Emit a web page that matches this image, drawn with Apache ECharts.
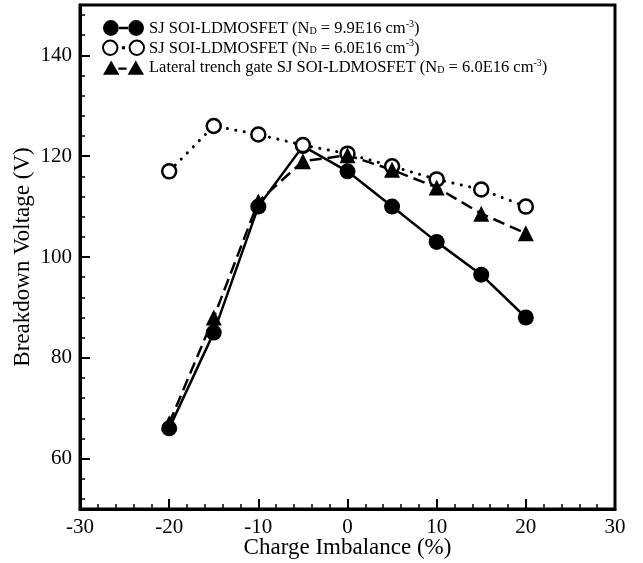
<!DOCTYPE html>
<html>
<head>
<meta charset="utf-8">
<script src="https://cdn.jsdelivr.net/npm/echarts@6/dist/echarts.min.js"></script>
<style>
html,body{margin:0;padding:0;background:#fff;}
#c{width:643px;height:563px;}
</style>
</head>
<body>
<div id="c"></div>
<script>
const xValues = [-20, -15, -10, -5, 0, 5, 10, 15, 20];
const sjHigh = [66, 85, 110, 122, 117, 110, 103, 96.5, 88];
const sjLow = [117, 126, 124.3, 122.2, 120.5, 118, 115.4, 113.4, 110];
const trench = [67, 88, 111, 119, 120.2, 117.3, 113.8, 108.6, 104.7];
const yMajorTicks = [60, 80, 100, 120, 140];
const yMinorTicks = [52, 56, 64, 68, 72, 76, 84, 88, 92, 96, 104, 108, 112, 116, 124, 128, 132, 136, 144, 148];
const seriesNames = [
  'SJ SOI-LDMOSFET (ND = 9.9E16 cm-3)',
  'SJ SOI-LDMOSFET (ND = 6.0E16 cm-3)',
  'Lateral trench gate SJ SOI-LDMOSFET (ND = 6.0E16 cm-3)'
];
const legendRich = [
  '{a|SJ SOI-LDMOSFET (N}{sub|D}{a| = 9.9E16 cm}{sup|-3}{a|)}',
  '{a|SJ SOI-LDMOSFET (N}{sub|D}{a| = 6.0E16 cm}{sup|-3}{a|)}',
  '{a|Lateral trench gate SJ SOI-LDMOSFET (N}{sub|D}{a| = 6.0E16 cm}{sup|-3}{a|)}'
];

const pair = (arr) => xValues.map((x, i) => [x, arr[i]]);
const FONT = '"Liberation Serif", "Times New Roman", serif';

const iconFilled = 'path://M0.5,8a7.5,7.5 0 1,0 15,0a7.5,7.5 0 1,0 -15,0Z M24.5,8a7.5,7.5 0 1,0 15,0a7.5,7.5 0 1,0 -15,0Z M15,6.8L25,6.8L25,9.2L15,9.2Z';
const iconOpen = 'path://M1.5,8a6.5,6.5 0 1,0 13,0a6.5,6.5 0 1,0 -13,0Z M25.5,8a6.5,6.5 0 1,0 13,0a6.5,6.5 0 1,0 -13,0Z M19.5,7.5L20.5,7.5L20.5,8.5L19.5,8.5Z';
const iconTri = 'path://M0,15L8,1L16,15Z M24,15L32,1L40,15Z M15,7.8L23,7.8L23,10.2L15,10.2Z';

const chart = echarts.init(document.getElementById('c'), null, {renderer: 'canvas'});
chart.setOption({
  animation: false,
  backgroundColor: '#fff',
  textStyle: {fontFamily: FONT, color: '#000'},
  grid: {left: 80, right: 28, top: 5, bottom: 54, containLabel: false, outerBoundsMode: 'none', show: true, borderColor: '#000', borderWidth: 3, backgroundColor: 'transparent'},
  legend: {
    orient: 'vertical',
    left: 97,
    top: 14,
    itemWidth: 41,
    itemHeight: 16,
    itemGap: 1.8,
    data: [
      {name: seriesNames[0], icon: iconFilled},
      {name: seriesNames[1], icon: iconOpen},
      {name: seriesNames[2], icon: iconTri}
    ],
    formatter: (name) => legendRich[seriesNames.indexOf(name)],
    textStyle: {
      fontFamily: FONT,
      color: '#000',
      rich: {
        a: {fontFamily: FONT, fontSize: 16.5, color: '#000', lineHeight: 18, verticalAlign: 'bottom'},
        sub: {fontFamily: FONT, fontSize: 10, color: '#000', lineHeight: 18, verticalAlign: 'bottom', padding: [0, 0, 1, 0]},
        sup: {fontFamily: FONT, fontSize: 10, color: '#000', lineHeight: 18, verticalAlign: 'top'}
      }
    }
  },
  xAxis: {
    type: 'value',
    min: -30, max: 30, interval: 10,
    name: 'Charge Imbalance (%)',
    nameLocation: 'middle',
    nameGap: 27,
    nameMoveOverlap: false,
    nameTextStyle: {fontFamily: FONT, fontSize: 23, color: '#000'},
    axisLine: {show: true, onZero: false, lineStyle: {color: '#000', width: 3}},
    axisTick: {show: true, inside: true, length: 10, lineStyle: {color: '#000', width: 2}},
    minorTick: {show: true, splitNumber: 5, length: 5, lineStyle: {color: '#000', width: 1.5}},
    axisLabel: {fontFamily: FONT, fontSize: 21, color: '#000', margin: 8},
    splitLine: {show: false}
  },
  yAxis: [{
    type: 'value',
    min: 50, max: 150,
    name: 'Breakdown Voltage (V)',
    nameLocation: 'middle',
    nameGap: 46,
    nameMoveOverlap: false,
    nameTextStyle: {fontFamily: FONT, fontSize: 23, color: '#000'},
    axisLine: {show: true, onZero: false, lineStyle: {color: '#000', width: 3}},
    axisTick: {show: true, inside: true, length: 10, customValues: yMajorTicks, lineStyle: {color: '#000', width: 2}},
    axisLabel: {fontFamily: FONT, fontSize: 21, color: '#000', margin: 8, customValues: yMajorTicks},
    splitLine: {show: false}
  }, {
    type: 'value',
    min: 50, max: 150,
    position: 'left',
    axisLine: {show: false, onZero: false},
    axisTick: {show: true, inside: true, length: 5, customValues: yMinorTicks, lineStyle: {color: '#000', width: 1.5}},
    axisLabel: {show: false},
    splitLine: {show: false}
  }],
  series: [{
    name: seriesNames[0],
    type: 'line',
    data: pair(sjHigh),
    symbol: 'circle',
    symbolSize: 16,
    itemStyle: {color: '#000'},
    lineStyle: {color: '#000', width: 2.5, type: 'solid'}
  }, {
    name: seriesNames[1],
    type: 'line',
    data: pair(sjLow),
    symbol: 'circle',
    symbolSize: 14,
    itemStyle: {color: '#fff', borderColor: '#000', borderWidth: 2.5},
    lineStyle: {color: '#000', width: 3, type: [0.1, 8.5], cap: 'round'}
  }, {
    name: seriesNames[2],
    type: 'line',
    data: pair(trench),
    symbol: 'triangle',
    symbolSize: 16,
    itemStyle: {color: '#000'},
    lineStyle: {color: '#000', width: 2.5, type: [12, 6]}
  }]
});
</script>
</body>
</html>
